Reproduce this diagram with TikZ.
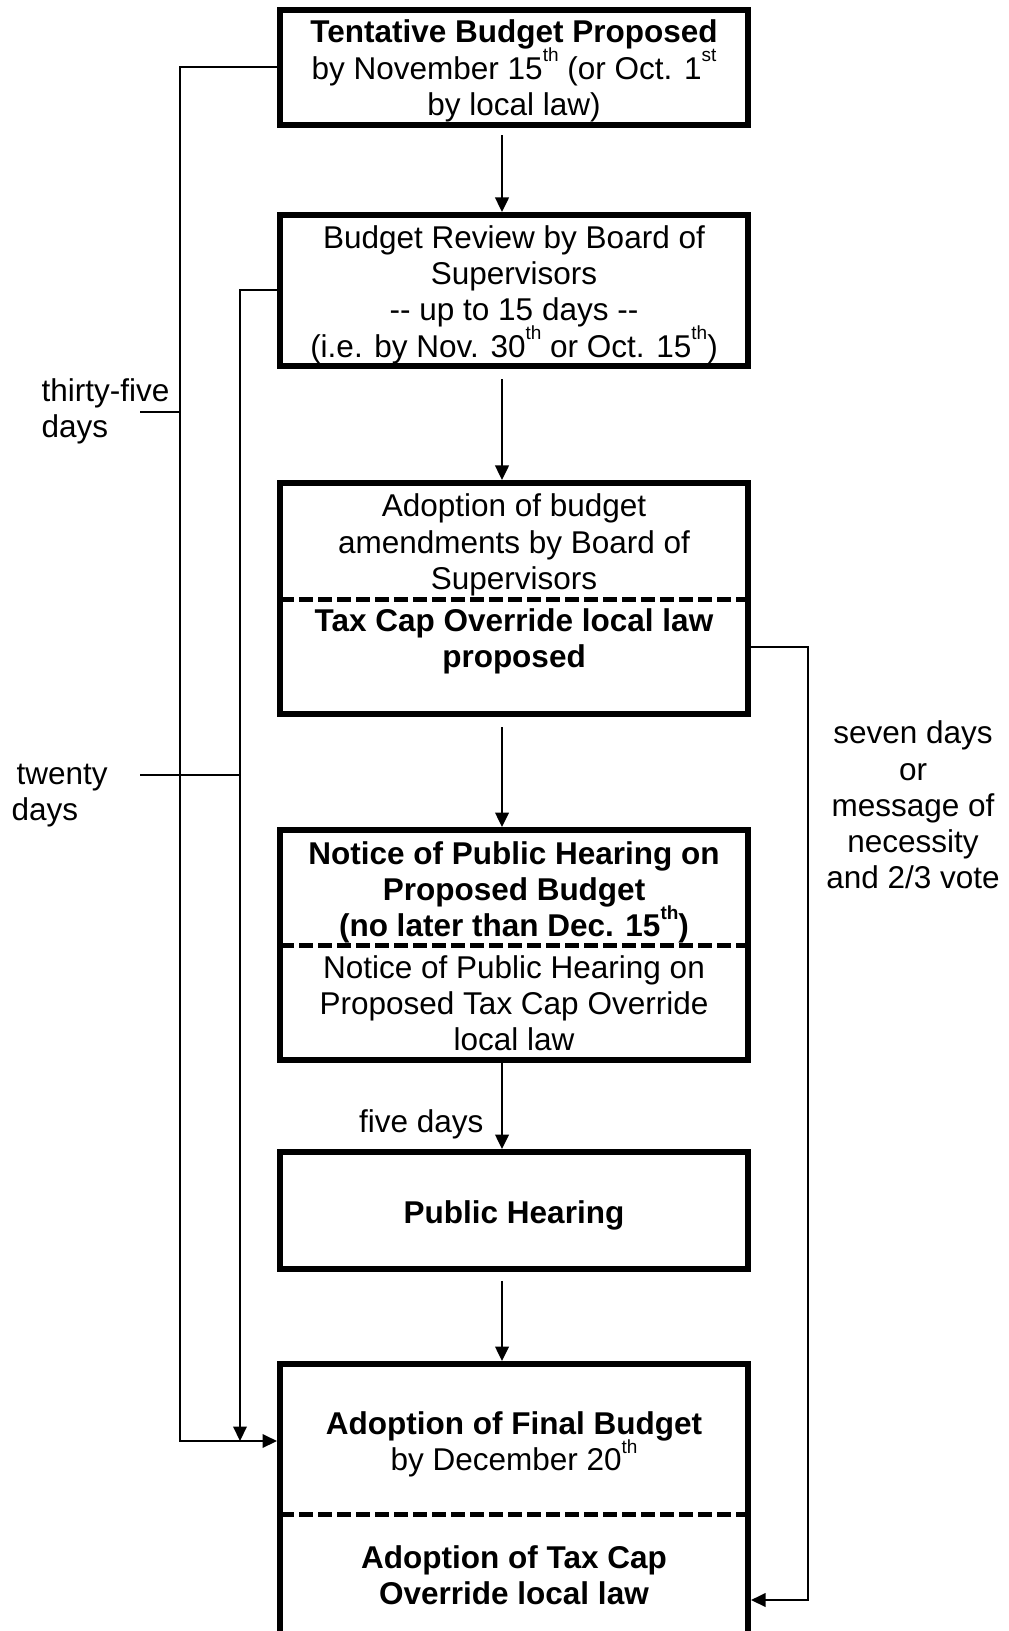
\documentclass[tikz,border=0pt]{standalone}
\usepackage{fontspec}
\setmainfont{Liberation Sans}
\usetikzlibrary{arrows.meta}

\newcommand{\ordinal}[1]{\smash{\raisebox{1.05ex}{\fontsize{7.6}{8}\selectfont #1}}}

\tikzset{
  stage/.style={draw,line width=2.4pt,inner sep=0pt,minimum width=187.2pt},
  stagetext/.style={inner sep=0pt,align=center},
  link/.style={line width=0.8pt},
  flow/.style={line width=1pt,->},
  splitline/.style={line width=2pt,dash pattern=on 5.4pt off 2.2pt}
}

\begin{document}
\begin{tikzpicture}[x=0.4pt,y=-0.4pt,>={Triangle[length=5.8pt,width=5.4pt]},
    font=\fontsize{12.6}{14.5}\selectfont]
    \useasboundingbox (0,0) rectangle (1008,1631);
    \clip (0,0) rectangle (1008,1631); % the last box runs off the page
    \coordinate (spine) at (502,0);
    \node[stage,minimum height=46pt] (tentative) at (514,67.5) {};
    \node[stage,minimum height=60.4pt] (review) at (514,290.5) {};
    \node[stage,minimum height=92.4pt] (amend) at (514,598.5) {};
    \node[stage,minimum height=92pt] (notice) at (514,945) {};
    \node[stage,minimum height=46.8pt] (hearing) at (514,1210.5) {};
    \node[stage,minimum height=134.4pt] (final) at (514,1532) {};
    % texts in the boxes
    \node[stagetext] (tentativetext) at (514,71) {\textbf{Tentative Budget Proposed}\\by November 15\ordinal{th} (or Oct. 1\ordinal{st}\\by local law)};
    \node[stagetext] (reviewtext) at (514,294.5) {Budget Review by Board of\\Supervisors\\-{}- up to 15 days -{}-\\(i.e. by Nov. 30\ordinal{th} or Oct. 15\ordinal{th})};
    \node[stagetext] (amendtop) at (514,545) {Adoption of budget\\amendments by Board of\\Supervisors};
    \node[stagetext] (amendlow) at (514,641.5) {\textbf{Tax Cap Override local law}\\\textbf{proposed}};
    \node[stagetext] (noticetop) at (514,892.5) {\textbf{Notice of Public Hearing on}\\\textbf{Proposed Budget}\\\textbf{(no later than Dec. 15\ordinal{th})}};
    \node[stagetext] (noticelow) at (514,1003) {Notice of Public Hearing on\\Proposed Tax Cap Override\\local law};
    \node[stagetext] (hearingtext) at (514,1215) {\textbf{Public Hearing}};
    \node[stagetext] (finaltop) at (514,1444.5) {\textbf{Adoption of Final Budget}\\by December 20\ordinal{th}};
    \node[stagetext] (finallow) at (514,1575.5) {\textbf{Adoption of Tax Cap}\\\textbf{Override local law}};
    \foreach \b/\y in {amend/599,notice/945,final/1514}{
      \coordinate (split) at (514,\y);
      \draw[splitline,shorten <=1.2pt,shorten >=1.2pt] (split -| \b.west) -- (split -| \b.east);
    }
    % down the middle
    \foreach \a/\b/\g in {tentative/review/3pt,review/amend/4pt,amend/notice/4pt,notice/hearing/0pt,hearing/final/3.5pt}{
      \draw[flow,shorten <=\g] (\a.south -| spine) -- (\b.north -| spine);
    }
    \node[inner sep=0pt,anchor=east] (fivedays) at (484,1124.5) {five days};
    % time limits at the sides
    \coordinate (cornerA) at (180,1441);
    \coordinate (cornerB) at (240,1441);
    \coordinate (cornerCtop) at (808,647);
    \coordinate (cornerC) at (808,1600);
    \draw[link,->] (tentative.west) -| (cornerA) -- (cornerA -| final.west);
    \draw[link,->] (review.west) -| (cornerB);
    \draw[link,->] (cornerCtop -| amend.east) -- (cornerCtop) -- (cornerC) -- (cornerC -| final.east);
    \node[inner sep=0pt,anchor=west,align=left] (thirtyfive) at (41,411.5) {thirty-five\\days};
    \node[inner sep=0pt,anchor=west,align=left] (twenty) at (11,795.5) {\hspace*{2pt}twenty\\days};
    \node[stagetext] (seven) at (913,805) {seven days\\or\\message of\\necessity\\and 2/3 vote};
    \coordinate (tickA) at (140,412);
    \coordinate (tickB) at (140,775);
    \draw[link] (tickA) -- (tickA -| cornerA);
    \draw[link] (tickB) -- (tickB -| cornerB);
\end{tikzpicture}
\end{document}
